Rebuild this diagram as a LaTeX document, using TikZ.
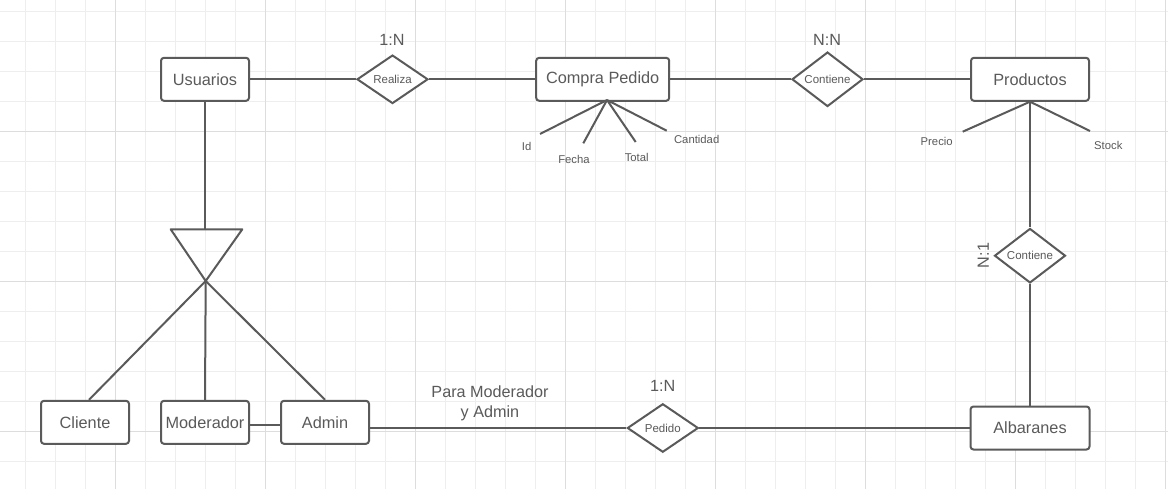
\documentclass[tikz,border=0pt]{standalone}
\usepackage{fontspec}
\setmainfont{Liberation Sans}
\usepackage{xcolor}
\usepackage{tikz}
\usetikzlibrary{shapes,positioning,calc}
\definecolor{ink}{HTML}{5A5A5A}
\definecolor{gridminor}{HTML}{EEEEEE}
\definecolor{gridmajor}{HTML}{DDDDDD}

\begin{document}
\begin{tikzpicture}[x=1pt,y=-1pt,
    entity/.style={draw=ink, line width=2pt, rounded corners=3pt, fill=white, minimum width=88pt, minimum height=43pt, inner sep=0pt, text=ink, font=\fontsize{16.3}{19}\selectfont},
    rel/.style={draw=ink, line width=2pt, diamond, fill=white, minimum width=71pt, minimum height=48.5pt, inner sep=0pt, text=ink, font=\fontsize{11.5}{13}\selectfont},
    attr/.style={text=ink, inner sep=0pt, font=\fontsize{11.3}{13}\selectfont},
    card/.style={text=ink, inner sep=0pt, font=\fontsize{16.2}{20}\selectfont},
    link/.style={draw=ink, line width=2pt}]
    \useasboundingbox (0,0) rectangle (1168,489);
    \fill[white] (0,0) rectangle (1168,489);
    % grid
    \foreach \x in {0,...,38}
        \draw[gridminor, line width=1pt] ({25.7+30*\x},0) -- ({25.7+30*\x},489);
    \foreach \y in {0,...,15}
        \draw[gridminor, line width=1pt] (0,{11.7+30*\y}) -- (1168,{11.7+30*\y});
    \foreach \x in {0,...,7}
        \draw[gridmajor, line width=1pt] ({115.7+150*\x},0) -- ({115.7+150*\x},489);
    \foreach \y in {0,1,2}
        \draw[gridmajor, line width=1pt] (0,{131.7+150*\y}) -- (1168,{131.7+150*\y});

    % entities and relations
    \node [entity] (usuarios) at (205,79.3) {Usuarios};
    \node [rel] (realiza) at (392.5,79.3) {Realiza};
    \node [card] (crealiza) at (392,40) {1:N};
    \node [entity, minimum width=133pt] (compra) at (602.7,79.3) {Compra Pedido};
    \node [rel] (contiene) at (827.5,79.3) {Contiene};
    \node [card] (ccontiene) at (827,40) {N:N};
    \node [entity, minimum width=118pt] (productos) at (1030,79.3) {Productos};
    \node [rel] (contieneb) at (1030,255.7) {Contiene};
    \node [card, rotate=90] (ccontieneb) at (983.3,255.5) {N:1};
    \node [entity, minimum width=119pt] (albaranes) at (1030,428) {Albaranes};
    \node [rel] (pedido) at (662.8,428) {Pedido};
    \node [card] (cpedido) at (662.7,386) {1:N};
    \node [card, align=center] (nota) at (490,403) {Para Moderador\\y Admin};
    \node [entity] (cliente) at (85,422.3) {Cliente};
    \node [entity] (moderador) at (205,422.3) {Moderador};
    \node [entity] (admin) at (325,422.3) {Admin};

    % specialisation triangle
    \coordinate (isa) at (205.7,281);
    \coordinate (isaa) at (170.7,229.3);
    \coordinate (isab) at (242.3,229.3);
    \coordinate (isatop) at (205,229.3);
    \draw [link, line join=round] (isaa) -- (isab) -- (isa) -- cycle;

    % attributes
    \coordinate (cpb) at (607,100);
    \coordinate (eid) at (540,134);
    \coordinate (efecha) at (583.3,143.3);
    \coordinate (etotal) at (635.7,142);
    \coordinate (ecant) at (666.7,130.7);
    \node [attr] (id) at (526.7,146) {Id};
    \node [attr] (fecha) at (574,159) {Fecha};
    \node [attr] (total) at (636.7,157) {Total};
    \node [attr] (cantidad) at (696.7,139.3) {Cantidad};
    \coordinate (prb) at (1030,101.7);
    \coordinate (eprecio) at (962.7,131.7);
    \coordinate (estock) at (1090,131);
    \node [attr] (precio) at (936.7,141) {Precio};
    \node [attr] (stock) at (1108.3,145) {Stock};
    \draw [link] (cpb) -- (eid);
    \draw [link] (cpb) -- (efecha);
    \draw [link] (cpb) -- (etotal);
    \draw [link] (cpb) -- (ecant);
    \draw [link] (prb) -- (eprecio);
    \draw [link] (prb) -- (estock);

    % connectors
    \draw [link] (usuarios.east) -- (realiza.west);
    \draw [link] (realiza.east) -- (compra.west);
    \draw [link] (compra.east) -- (contiene.west);
    \draw [link] (contiene.east) -- (productos.west);
    \draw [link] (productos.south) -- (contieneb.north);
    \draw [link] (contieneb.south) -- (albaranes.north);
    \draw [link] (usuarios.south) -- (isatop);
    \draw [link] (isa) -- ([xshift=4pt]cliente.north);
    \draw [link] (isa) -- (moderador.north);
    \draw [link] (isa) -- (admin.north);
    \draw [link] ([yshift=-2.7pt]moderador.east) -- ([yshift=-2.7pt]admin.west);
    \draw [link] ([yshift=-5.7pt]admin.east) -- (pedido.west);
    \draw [link] (pedido.east) -- (albaranes.west);
\end{tikzpicture}
\end{document}
